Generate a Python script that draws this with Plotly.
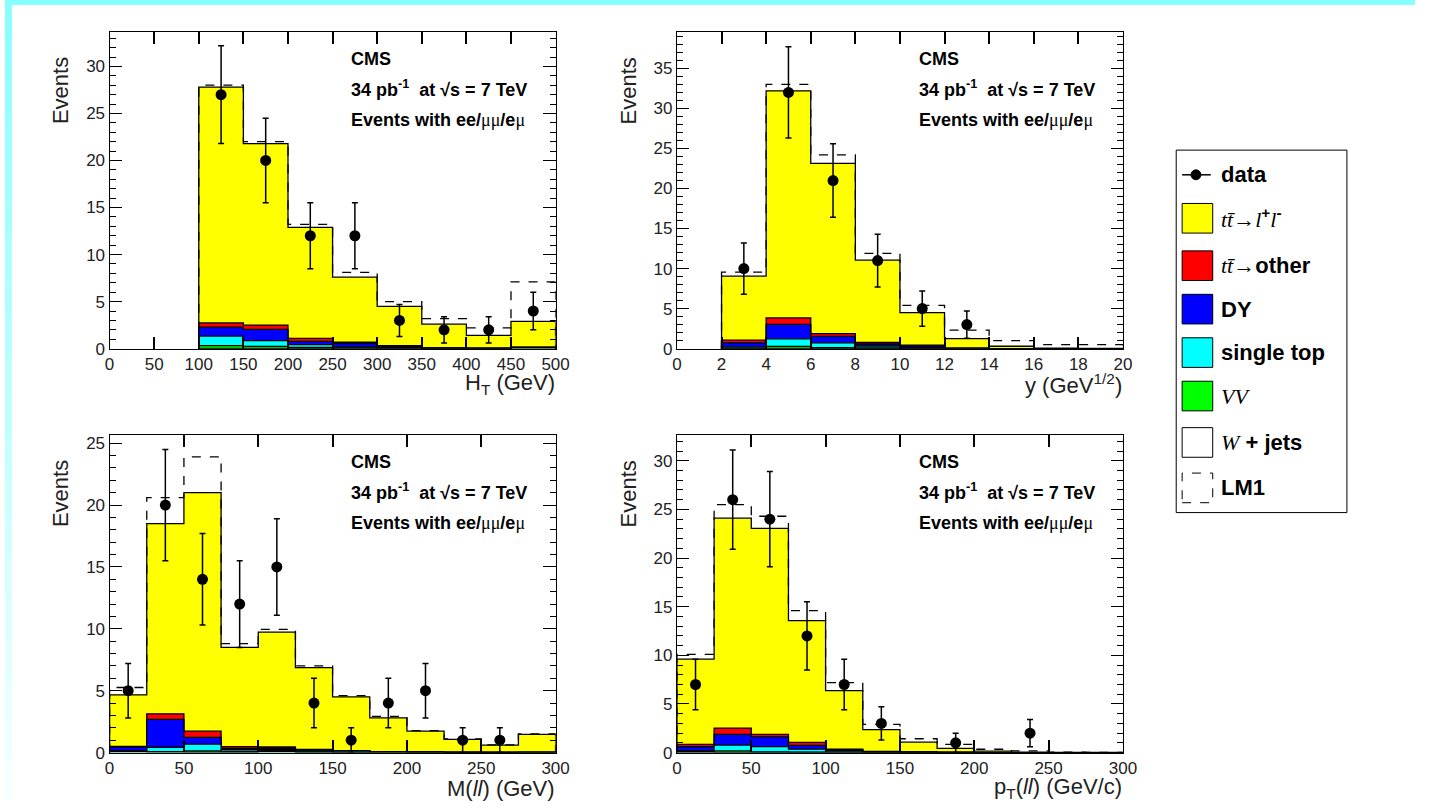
import numpy as np
import plotly.graph_objects as go

W, H = 1429, 809

# ---------------- data ----------------
# Panel 1: H_T
ht_edges = [100, 150, 200, 250, 300, 350, 400, 450, 500]
ht_wjets = [0.03, 0.03, 0.03, 0.03, 0.03, 0.02, 0.02, 0.08]
ht_vv = [0.30, 0.22, 0.10, 0.05, 0.03, 0.01, 0.01, 0.02]
ht_st = [1.00, 0.60, 0.30, 0.10, 0.05, 0.01, 0.00, 0.02]
ht_dy = [0.95, 1.20, 0.35, 0.35, 0.15, 0.02, 0.00, 0.02]
ht_ttother = [0.45, 0.45, 0.30, 0.15, 0.05, 0.02, 0.01, 0.02]
ht_ttll = [25.07, 19.30, 11.82, 6.92, 4.19, 2.52, 1.36, 2.74]
ht_lm1 = [0.2, 0.2, 0.3, 0.5, 0.5, 0.6, 0.8, 4.2]
ht_data = [27, 20, 12, 12, 3, 2, 2, 4]
ht_err = [5.2, 4.5, 3.5, 3.5, 1.7, 1.4, 1.4, 2.0]

# Panel 2: y
y_edges = [2, 4, 6, 8, 10, 12, 14, 16, 18, 20]
y_wjets = [0.02, 0.03, 0.03, 0.03, 0.03, 0.01, 0.0, 0.0, 0.0]
y_vv = [0.05, 0.25, 0.10, 0.05, 0.02, 0.01, 0.0, 0.0, 0.0]
y_st = [0.15, 0.95, 0.60, 0.25, 0.10, 0.01, 0.0, 0.0, 0.0]
y_dy = [0.50, 1.80, 0.80, 0.25, 0.20, 0.01, 0.0, 0.0, 0.0]
y_ttother = [0.35, 0.80, 0.35, 0.20, 0.10, 0.01, 0.0, 0.0, 0.0]
y_ttll = [7.98, 28.37, 21.27, 10.27, 4.05, 1.20, 0.30, 0.05, 0.02]
y_lm1 = [0.5, 0.8, 1.05, 0.85, 0.9, 1.05, 0.7, 0.45, 0.48]
y_data = [10, 32, 21, 11, 5, 3, None, None, None]
y_err = [3.2, 5.7, 4.6, 3.3, 2.2, 1.7, None, None, None]

# Panel 3: M(ll)
m_edges = [0, 25, 50, 75, 100, 125, 150, 175, 200, 225, 250, 275, 300]
m_wjets = [0.10, 0.05, 0.03, 0.03, 0.10, 0.03, 0.02, 0.03, 0.02, 0.01, 0.01, 0.02]
m_vv = [0.02, 0.03, 0.10, 0.05, 0.05, 0.03, 0.01, 0.01, 0.01, 0.0, 0.0, 0.0]
m_st = [0.03, 0.35, 0.55, 0.15, 0.10, 0.08, 0.10, 0.02, 0.01, 0.01, 0.0, 0.0]
m_dy = [0.30, 2.25, 0.55, 0.10, 0.10, 0.05, 0.01, 0.01, 0.0, 0.0, 0.0, 0.0]
m_ttother = [0.05, 0.45, 0.50, 0.15, 0.10, 0.06, 0.02, 0.01, 0.01, 0.01, 0.01, 0.01]
m_ttll = [4.17, 15.37, 19.27, 8.02, 9.29, 6.61, 4.34, 2.72, 1.68, 1.04, 0.58, 1.44]
m_lm1 = [0.59, 2.1, 2.9, 0.3, 0.21, 0.14, 0.1, 0.13, 0.05, 0.03, 0.02, 0.03]
m_data = [5, 20, 14, 12, 15, 4, 1, 4, 5, 1, 1, None]
m_err = [2.2, 4.5, 3.7, 3.5, 3.9, 2.0, 1.0, 2.0, 2.2, 1.0, 1.0, None]

# Panel 4: pT(ll)
p_edges = [0, 25, 50, 75, 100, 125, 150, 175, 200, 225, 250, 275, 300]
p_wjets = [0.05, 0.02, 0.02, 0.02, 0.02, 0.02, 0.01, 0.01, 0.0, 0.0, 0.0, 0.0]
p_vv = [0.05, 0.15, 0.05, 0.03, 0.02, 0.01, 0.01, 0.0, 0.0, 0.0, 0.0, 0.0]
p_st = [0.10, 0.60, 0.55, 0.30, 0.15, 0.04, 0.02, 0.0, 0.0, 0.0, 0.0, 0.0]
p_dy = [0.40, 1.10, 1.00, 0.40, 0.10, 0.02, 0.01, 0.0, 0.0, 0.0, 0.0, 0.0]
p_ttother = [0.25, 0.65, 0.25, 0.30, 0.06, 0.02, 0.01, 0.0, 0.0, 0.0, 0.0, 0.0]
p_ttll = [8.75, 21.58, 21.18, 12.51, 6.02, 2.26, 1.02, 0.43, 0.15, 0.05, 0.02, 0.01]
p_lm1 = [0.5, 1.4, 1.25, 1.04, 0.83, 0.53, 0.34, 0.41, 0.19, 0.12, 0.03, 0.02]
p_data = [7, 26, 24, 12, 7, 3, None, 1, None, 2, None, None]
p_err = [2.6, 5.1, 4.9, 3.5, 2.6, 1.7, None, 1.0, None, 1.4, None, None]

component_names = ["W + jets", "VV", "single top", "DY", "tt other", "tt ll"]
component_colors = ["#FFFFFF", "#00FF00", "#00FFFF", "#0000FF", "#FF0000", "#FFFF00"]

panels = [
    dict(edges=ht_edges, comps=[ht_wjets, ht_vv, ht_st, ht_dy, ht_ttother, ht_ttll],
         lm1=ht_lm1, data=ht_data, err=ht_err, xr=[0, 500], yr=[0, 33.7],
         xd=50, xtitle="H<sub>T</sub> (GeV)"),
    dict(edges=y_edges, comps=[y_wjets, y_vv, y_st, y_dy, y_ttother, y_ttll],
         lm1=y_lm1, data=y_data, err=y_err, xr=[0, 20], yr=[0, 39.6],
         xd=2, xtitle="y (GeV<sup>1/2</sup>)"),
    dict(edges=m_edges, comps=[m_wjets, m_vv, m_st, m_dy, m_ttother, m_ttll],
         lm1=m_lm1, data=m_data, err=m_err, xr=[0, 300], yr=[0, 25.7],
         xd=50, xtitle="M(<i>ll</i>) (GeV)"),
    dict(edges=p_edges, comps=[p_wjets, p_vv, p_st, p_dy, p_ttother, p_ttll],
         lm1=p_lm1, data=p_data, err=p_err, xr=[0, 300], yr=[0, 32.7],
         xd=50, xtitle="p<sub>T</sub>(<i>ll</i>) (GeV/c)"),
]

boxes = [(106, 558, 32, 353), (681, 1133, 32, 353),
         (106, 558, 440, 762), (681, 1133, 440, 762)]


def px_x(px):
    return px / W


def px_y(py):
    return 1 - py / H


def step_xy(edges, vals):
    x = [edges[0]] + list(edges[:-1]) + [edges[-1], edges[-1]]
    y = [0] + list(vals) + [vals[-1], 0]
    return x, y


fig = go.Figure()
layout = dict(width=W, height=H, margin=dict(l=0, r=0, t=0, b=0, pad=0),
              paper_bgcolor="white", plot_bgcolor="white", showlegend=False,
              font=dict(family="Liberation Sans, Arial, sans-serif", color="black"))

annotations = []
shapes = []

for i, (p, b) in enumerate(zip(panels, boxes)):
    k = "" if i == 0 else str(i + 1)
    xa, ya = "x" + k, "y" + k
    cum = np.cumsum(np.array(p["comps"], dtype=float), axis=0)
    for j in range(len(component_names) - 1, -1, -1):
        sx, sy = step_xy(p["edges"], cum[j])
        fig.add_trace(go.Scatter(x=sx, y=sy, mode="lines", line=dict(shape="hv", color="black", width=1.3),
                                 fill="tozeroy", fillcolor=component_colors[j],
                                 name=component_names[j], xaxis=xa, yaxis=ya, hoverinfo="skip"))
    lm_tot = cum[-1] + np.array(p["lm1"])
    sx, sy = step_xy(p["edges"], lm_tot)
    fig.add_trace(go.Scatter(x=sx, y=sy, mode="lines",
                             line=dict(shape="hv", color="black", width=1.3, dash="dash"),
                             name="LM1", xaxis=xa, yaxis=ya))
    edges = np.array(p["edges"], dtype=float)
    centers = (edges[:-1] + edges[1:]) / 2
    fig.add_trace(go.Scatter(x=centers, y=p["data"], mode="markers",
                             marker=dict(color="black", size=11),
                             error_y=dict(type="data", array=p["err"], symmetric=True,
                                          color="black", thickness=1.5, width=3),
                             name="data", xaxis=xa, yaxis=ya))

    x0, x1, yt, yb = b
    xdom = [px_x(x0), px_x(x1)]
    ydom = [px_y(yb), px_y(yt)]
    layout["xaxis" + k] = dict(domain=xdom, range=p["xr"], anchor=ya,
                               showline=True, linecolor="black", linewidth=1.2, mirror="ticks",
                               ticks="inside", ticklen=12, tickwidth=1.5, tickcolor="black",
                               showgrid=False, zeroline=False,
                               tickmode="linear", dtick=p["xd"], tick0=0,
                               tickfont=dict(size=17, color="#222"))
    layout["yaxis" + k] = dict(domain=ydom, range=p["yr"], anchor=xa,
                               showline=True, linecolor="black", linewidth=1.2, mirror="allticks",
                               ticks="inside", ticklen=12, tickwidth=1.3, tickcolor="black",
                               showgrid=False, zeroline=False,
                               tickmode="linear", dtick=5, tick0=0,
                               tickfont=dict(size=17, color="#222"))
    # overlay y axis carrying the minor ticks
    mk = str(i + 5)
    layout["yaxis" + mk] = dict(domain=ydom, range=p["yr"], anchor=xa, overlaying=ya,
                                showline=False, mirror="allticks", ticks="inside", ticklen=6,
                                tickwidth=1, tickcolor="black", showticklabels=False,
                                showgrid=False, zeroline=False,
                                tickmode="linear", dtick=1, tick0=0)
    fig.add_trace(go.Scatter(x=[None], y=[None], mode="markers", xaxis=xa, yaxis="y" + mk,
                             showlegend=False, hoverinfo="skip"))

    annotations.append(dict(x=px_x(x1 + 1), y=px_y(yb + 36), xref="paper", yref="paper",
                            text=p["xtitle"], showarrow=False, xanchor="right", yanchor="middle",
                            font=dict(size=22, color="#222")))
    annotations.append(dict(x=px_x(x0 - 49), y=px_y(yt + 60), xref="paper", yref="paper",
                            text="Events", showarrow=False, textangle=-90,
                            xanchor="center", yanchor="middle",
                            font=dict(size=22, color="#222")))
    tx = x0 + 243
    for dy_, txt in [(28, "<b>CMS</b>"),
                     (58, "<b>34 pb<sup>-1</sup>  at √s = 7 TeV</b>"),
                     (90, "<b>Events with ee/</b><span style=\"font-family:'Liberation Serif',serif\">μμ</span><b>/e</b><span style=\"font-family:'Liberation Serif',serif\">μ</span>")]:
        annotations.append(dict(x=px_x(tx), y=px_y(yt + dy_), xref="paper", yref="paper",
                                text=txt, showarrow=False, xanchor="left", yanchor="middle",
                                font=dict(size=18, color="black")))

# ---- cyan page frame ----
shapes.append(dict(type="rect", xref="paper", yref="paper", x0=0, x1=1, y0=px_y(5), y1=1,
                   fillcolor="#88FFFF", line=dict(width=0), layer="below"))
nseg = 20
c0 = np.array([0x88, 0xFF, 0xFF])
c1 = np.array([0xF4, 0xFF, 0xFF])
for s in range(nseg):
    f = s / (nseg - 1)
    c = (c0 * (1 - f) + c1 * f).astype(int)
    shapes.append(dict(type="rect", xref="paper", yref="paper", x0=0, x1=px_x(7),
                       y0=px_y(H * (s + 1) / nseg), y1=px_y(H * s / nseg),
                       fillcolor="rgb(%d,%d,%d)" % tuple(c), line=dict(width=0), layer="below"))

# ---- legend ----
shapes.append(dict(type="rect", xref="paper", yref="paper", x0=px_x(1187), x1=px_x(1360),
                   y0=px_y(519), y1=px_y(152), fillcolor="white",
                   line=dict(color="black", width=1)))
shapes.append(dict(type="line", xref="paper", yref="paper", x0=px_x(1193), x1=px_x(1222),
                   y0=px_y(177), y1=px_y(177), line=dict(color="black", width=1.5)))
shapes.append(dict(type="circle", xref="paper", yref="paper", x0=px_x(1202), x1=px_x(1212),
                   y0=px_y(182), y1=px_y(172), fillcolor="black", line=dict(color="black", width=1)))
annotations.append(dict(x=px_x(1230), y=px_y(177), xref="paper", yref="paper", text="<b>data</b>",
                        showarrow=False, xanchor="left", yanchor="middle", font=dict(size=22)))

serif = "font-family:'Liberation Serif',serif;font-style:italic;font-weight:normal"
leg_items = [
    (221, "#FFFF00", "solid",
     "<span style=\"%s\">tt̄</span><b>→</b><span style=\"%s\">l</span><b><sup>+</sup></b><span style=\"%s\">l</span><b><sup>-</sup></b>" % (serif, serif, serif)),
    (269, "#FF0000", "solid", "<span style=\"%s\">tt̄</span><b>→other</b>" % serif),
    (313, "#0000FF", "solid", "<b>DY</b>"),
    (357, "#00FFFF", "solid", "<b>single top</b>"),
    (401, "#00FF00", "solid", "<span style=\"%s\">VV</span>" % serif),
    (448, "#FFFFFF", "solid", "<span style=\"%s\">W</span><b> + jets</b>" % serif),
    (494, "#FFFFFF", "dash", "<b>LM1</b>"),
]
for yc, col, dash, txt in leg_items:
    shapes.append(dict(type="rect", xref="paper", yref="paper", x0=px_x(1193), x1=px_x(1224),
                       y0=px_y(yc + 15), y1=px_y(yc - 15), fillcolor=col,
                       line=dict(color="black", width=1, dash=dash)))
    annotations.append(dict(x=px_x(1230), y=px_y(yc), xref="paper", yref="paper", text=txt,
                            showarrow=False, xanchor="left", yanchor="middle", font=dict(size=22)))

layout["annotations"] = annotations
layout["shapes"] = shapes
fig.update_layout(**layout)
fig.write_html("out.html")
